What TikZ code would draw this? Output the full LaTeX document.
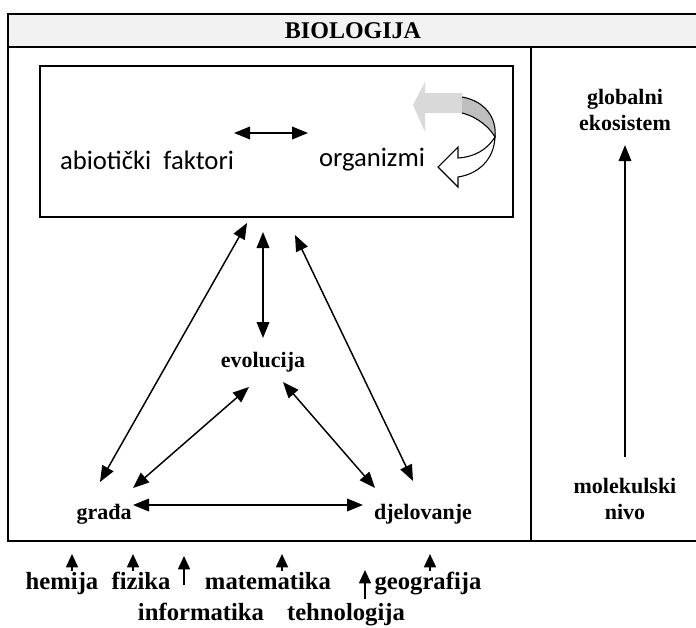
\documentclass[tikz,border=0pt]{standalone}
\usepackage{fontspec}
\setmainfont{Liberation Serif}
\newfontfamily\calibfont{Carlito}
\usetikzlibrary{
  arrows.meta,
  positioning
}
\tikzset{
  frame/.style={line width=1.6pt},
  box/.style={line width=1pt},
  title/.style={font=\fontsize{18}{21}\selectfont\bfseries},
  lbl/.style={font=\fontsize{16.5}{20}\selectfont\bfseries, align=center},
  subjlbl/.style={font=\fontsize{18.5}{22}\selectfont\bfseries, anchor=base},
  sans/.style={font=\calibfont\fontsize{20}{24}\selectfont},
  link/.style={{Triangle[length=12pt,width=9.5pt]}-{Triangle[length=12pt,width=9.5pt]}, line width=1.1pt},
  up/.style={-{Triangle[length=12pt,width=9.5pt]}, line width=1.1pt},
  subj/.style={-{Triangle[length=10pt,width=9pt]}, line width=1.3pt},
}

\begin{document}
\begin{tikzpicture}[x=0.75pt,y=-0.75pt]
\useasboundingbox (0,0) rectangle (696,628);

% --- outer frame and title ---
\fill[black!5] (8,14) rectangle (696,47);
\draw[frame] (696,14) -- (8,14) -- (8,541) -- (696,541);
\draw[frame] (8,47) -- (696,47);
\draw[frame] (531,47) -- (531,541);
\node[title] (bio) at (353,31) {BIOLOGIJA};

% --- ecosystem box ---
\draw[box] (40,66) rectangle (513,217);
\node[sans] (abio) at (147,160) {abiotički\ \ faktori};
\node[sans] (org) at (372,160) {organizmi};
\coordinate (ab-e) at (234,133);
\coordinate (org-w) at (308,133);
\draw[link] (ab-e) -- (org-w);

% --- cycle arrow ---
\fill[black!15] (462,93) -- (425,93) -- (425,82) -- (413,105) -- (425,132) -- (425,113) -- (462,113) -- cycle;
\draw[fill=black!25, line width=0.8pt] (462,97) .. controls (485,101) and (497,118) .. (495,137)
  .. controls (490,128) and (478,117) .. (462,113);
\draw[fill=white, line width=0.8pt] (495,137) .. controls (494,160) and (478,174) .. (458,177)
  -- (458,187) -- (438,167) -- (458,147) -- (458,158)
  .. controls (474,157) and (487,150) .. (495,137) -- cycle;

% --- triangle ---
\node[lbl] (evo) at (263,362) {evolucija};
\node[lbl] (grada) at (104,514) {građa};
\node[lbl] (djel) at (423,514) {djelovanje};

\coordinate (eco-l) at (247,223);
\coordinate (eco-m) at (263,232);
\coordinate (eco-r) at (295,235);
\coordinate (evo-s) at (263,338);
\coordinate (evo-sw) at (249,387);
\coordinate (evo-se) at (283,382);
\coordinate (gr-n) at (100,482);
\coordinate (gr-ne) at (133,488);
\coordinate (gr-e) at (133,505);
\coordinate (dj-n) at (413,481);
\coordinate (dj-nw) at (375,488);
\coordinate (dj-w) at (363,505);

\draw[link] (eco-l) -- (gr-n);
\draw[link] (eco-m) -- (evo-s);
\draw[link] (eco-r) -- (dj-n);
\draw[link] (evo-sw) -- (gr-ne);
\draw[link] (evo-se) -- (dj-nw);
\draw[link] (gr-e) -- (dj-w);

% --- levels column ---
\node[lbl] (glob) at (625,110) {globalni\\ekosistem};
\node[lbl] (mol) at (625,499) {molekulski\\nivo};
\draw[up, shorten <=12pt, shorten >=7pt] (mol.north) -- (glob.south);

% --- other sciences ---
\node[subjlbl] (hem) at (62,589) {hemija};
\node[subjlbl] (fiz) at (141,589) {fizika};
\node[subjlbl] (mat) at (268,589) {matematika};
\node[subjlbl] (geo) at (428,589) {geografija};
\node[subjlbl] (inf) at (201,620) {informatika};
\node[subjlbl] (teh) at (346,620) {tehnologija};

\foreach \x in {72,133,282,430}
  \draw[subj] (\x,571) -- (\x,554);
\draw[subj] (184,585) -- (184,556);
\draw[subj] (365,599) -- (365,570);

\end{tikzpicture}
\end{document}
